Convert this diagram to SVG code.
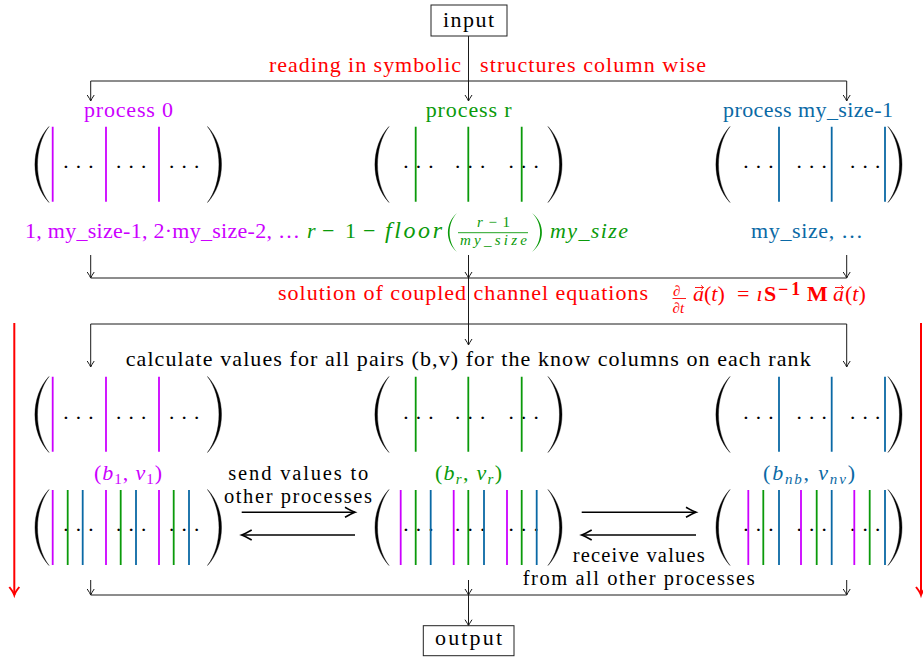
<svg xmlns="http://www.w3.org/2000/svg" width="923" height="657" viewBox="0 0 923 657" font-family="'Liberation Serif', 'Times New Roman', serif">
<defs>
<style>
text{font-family:"Liberation Serif","Times New Roman",serif;font-size:22px;fill:#000}
.i{font-style:italic}
.bf{font-weight:bold}
.s{font-size:15px}
.sm{font-size:20.5px}
.cm{fill:#cc00ff}.cg{fill:#0a9a0a}.cb{fill:#0a69a5}.cr{fill:#ff0000}
.dots{letter-spacing:5.2px}
.lm{stroke:#cc00ff;stroke-width:1.8;fill:none}
.lg{stroke:#0a9a0a;stroke-width:1.8;fill:none}
.lb{stroke:#0a69a5;stroke-width:1.8;fill:none}
.box{fill:#fff;stroke:#222;stroke-width:1}
.c{stroke:#1a1a1a;stroke-width:1;fill:none}
.ca{marker-end:url(#ah)}
.th{stroke:#000;stroke-width:1.6;fill:none;marker-end:url(#ahb)}
.rd{stroke:#ff0000;stroke-width:2;fill:none;marker-end:url(#ahr)}
.par{fill:#000;stroke:#000;stroke-width:0.4}
.vec{stroke:#ff0000;stroke-width:0.9;fill:none}
</style>
<marker id="ah" markerUnits="userSpaceOnUse" viewBox="-8 -6 10 12" markerWidth="10" markerHeight="12" refX="0" refY="0" orient="auto" overflow="visible">
<path d="M-6,-3.5 Q-2,-0.8 0,0 Q-2,0.8 -6,3.5" fill="none" stroke="#1a1a1a" stroke-width="1"/>
</marker>
<marker id="ahb" markerUnits="userSpaceOnUse" viewBox="-12 -7 14 14" markerWidth="14" markerHeight="14" refX="0" refY="0" orient="auto" overflow="visible">
<path d="M-10,-5 Q-3,-1 0,0 Q-3,1 -10,5" fill="none" stroke="#000" stroke-width="1.6"/>
</marker>
<marker id="ahr" markerUnits="userSpaceOnUse" viewBox="-10 -7 12 14" markerWidth="12" markerHeight="14" refX="0" refY="0" orient="auto" overflow="visible">
<path d="M-8,-5 Q-3,-1 0,0 Q-3,1 -8,5" fill="none" stroke="#ff0000" stroke-width="2"/>
</marker>
<path id="lp" d="M14,0 C-4.67,20 -4.67,56 14,76 C-1.33,56 -1.33,20 14,0Z"/>
<path id="rp" d="M0,0 C18.67,20 18.67,56 0,76 C15.33,56 15.33,20 0,0Z"/>
</defs>

<g id="connectors">
<path class="c ca" d="M468.5,36 V101"/>
<path class="c ca" d="M468.5,81 H90.7 V101"/>
<path class="c ca" d="M468.5,81 H846.7 V101"/>
<path class="c ca" d="M90.7,255 V278"/>
<path class="c ca" d="M846.7,255 V278"/>
<path class="c ca" d="M468.5,255 V278"/>
<path class="c" d="M90.7,278 H846.7"/>
<path class="c ca" d="M468.5,278 V345"/>
<path class="c ca" d="M468.5,324 H90.7 V367"/>
<path class="c ca" d="M468.5,324 H846.7 V367"/>
<path class="c ca" d="M90.7,580 V595"/>
<path class="c ca" d="M468.5,580 V595"/>
<path class="c ca" d="M846.7,580 V595"/>
<path class="c" d="M90.7,595 H846.7"/>
<path class="c ca" d="M468.5,595 V625.7"/>
<path class="th" d="M241.7,512.3 H355"/>
<path class="th" d="M355,535 H241.7"/>
<path class="th" d="M581.7,512.3 H696"/>
<path class="th" d="M696,535 H581.7"/>
<path class="rd" d="M14.3,323 V595"/>
<path class="rd" d="M921,323 V595"/>
</g>

<g id="input">
<rect class="box" x="431" y="5" width="76" height="31"/>
<text x="443" y="27" textLength="51">input</text>
</g>

<g id="step-labels">
<text class="cr" x="269" y="72" textLength="192">reading in symbolic</text>
<text class="cr" x="480" y="72" textLength="226">structures column wise</text>
<text class="cr" x="278" y="300" textLength="370">solution of coupled channel equations</text>
<text class="cr s i" x="673" y="295.5">∂</text>
<line x1="672.5" x2="686" y1="298.5" y2="298.5" stroke="#ff0000" stroke-width="0.9"/>
<text class="cr s i" x="672.5" y="313">∂t</text>
<text class="cr" y="300.7"><tspan class="i" x="693">a</tspan><tspan x="704">(</tspan><tspan class="i">t</tspan><tspan>)</tspan><tspan x="737">=</tspan><tspan class="i" x="756.5">ı</tspan><tspan class="bf" x="764">S</tspan><tspan class="bf" x="778" dy="-6" style="font-size:18px;letter-spacing:3px">−1</tspan><tspan class="bf" x="807" dy="6">M</tspan><tspan class="i" x="833">a</tspan><tspan x="845">(</tspan><tspan class="i">t</tspan><tspan>)</tspan></text>
<path class="vec" d="M695,287.5H703.5M701,285.3L703.5,287.5L701,289.7"/>
<path class="vec" d="M835,287.5H843.5M841,285.3L843.5,287.5L841,289.7"/>
<text x="125.7" y="366" textLength="685">calculate values for all pairs (b,v) for the know columns on each rank</text>
<text class="sm" x="228.3" y="480" textLength="140">send values to</text>
<text class="sm" x="224" y="503" textLength="148">other processes</text>
<text class="sm" x="572.7" y="562" textLength="132">receive values</text>
<text class="sm" x="522.7" y="585" textLength="232">from all other processes</text>
</g>

<g id="index-labels">
<text class="cm" x="25" y="238" textLength="275">1, my_size-1, 2·my_size-2, …</text>
<text class="cg" y="238"><tspan class="i" x="307">r</tspan><tspan x="322">−</tspan><tspan x="345">1</tspan><tspan x="363">−</tspan></text>
<text class="cg i" x="385" y="238" textLength="57" style="font-size:24px">floor</text>
<use href="#lp" transform="translate(448,213) scale(0.643,0.513)" fill="#0a9a0a"/>
<text class="cg s" x="477" y="227" textLength="33"><tspan class="i">r</tspan>−1</text>
<line x1="458" x2="528" y1="232.7" y2="232.7" stroke="#0a9a0a" stroke-width="0.9"/>
<text class="cg s i" x="460" y="245" textLength="67">my_size</text>
<use href="#rp" transform="translate(532,213) scale(0.71,0.513)" fill="#0a9a0a"/>
<text class="cg i" x="550" y="238" textLength="78">my_size</text>
<text class="cb" x="751" y="238" textLength="112">my_size, …</text>
</g>

<g id="process-0">
<text class="cm" x="84" y="117" textLength="89">process 0</text>
<use href="#lp" class="par" x="35" y="126.5"/>
<use href="#rp" class="par" x="207.5" y="126.5"/>
<path class="lm" d="M52.7,126.7V201.7M106,126.7V201.7M159,126.7V201.7"/>
<text class="dots" x="62.2" y="173.7">···</text>
<text class="dots" x="114.9" y="173.7">···</text>
<text class="dots" x="167.9" y="173.7">···</text>
</g>

<g id="process-r">
<text class="cg" x="425.7" y="117" textLength="86">process r</text>
<use href="#lp" class="par" x="375" y="126.5"/>
<use href="#rp" class="par" x="548" y="126.5"/>
<text class="dots" x="402.2" y="173.7">···</text>
<text class="dots" x="453.9" y="173.7">···</text>
<text class="dots" x="507.5" y="173.7">···</text>
<path class="lg" d="M415.7,126.7V201.7M468.3,126.7V201.7M521.7,126.7V201.7"/>
</g>

<g id="process-last">
<text class="cb" x="723" y="117" textLength="170">process my_size-1</text>
<use href="#lp" class="par" x="716" y="126.5"/>
<use href="#rp" class="par" x="888" y="126.5"/>
<path class="lb" d="M779,126.7V201.7M831.7,126.7V201.7M885,126.7V201.7"/>
<text class="dots" x="742.2" y="173.7">···</text>
<text class="dots" x="795.5" y="173.7">···</text>
<text class="dots" x="848.9" y="173.7">···</text>
</g>

<g id="calc-0">
<use href="#lp" class="par" x="35" y="376.5"/>
<use href="#rp" class="par" x="207.5" y="376.5"/>
<path class="lm" d="M52.7,376.7V451.7M106,376.7V451.7M159,376.7V451.7"/>
<text class="dots" x="62.2" y="424.7">···</text>
<text class="dots" x="114.9" y="424.7">···</text>
<text class="dots" x="167.9" y="424.7">···</text>
</g>

<g id="calc-r">
<use href="#lp" class="par" x="375" y="376.5"/>
<use href="#rp" class="par" x="548" y="376.5"/>
<text class="dots" x="402.2" y="424.7">···</text>
<text class="dots" x="453.9" y="424.7">···</text>
<text class="dots" x="507.5" y="424.7">···</text>
<path class="lg" d="M415.7,376.7V451.7M468.3,376.7V451.7M521.7,376.7V451.7"/>
</g>

<g id="calc-last">
<use href="#lp" class="par" x="716" y="376.5"/>
<use href="#rp" class="par" x="888" y="376.5"/>
<path class="lb" d="M779,376.7V451.7M831.7,376.7V451.7M885,376.7V451.7"/>
<text class="dots" x="742.2" y="424.7">···</text>
<text class="dots" x="795.5" y="424.7">···</text>
<text class="dots" x="848.9" y="424.7">···</text>
</g>

<g id="pairs-0">
<text class="cm" x="94" y="480" textLength="68">(<tspan class="i">b</tspan><tspan class="s" dy="4">1</tspan><tspan dy="-4">, </tspan><tspan class="i">v</tspan><tspan class="s" dy="4">1</tspan><tspan dy="-4">)</tspan></text>
<use href="#lp" class="par" x="35" y="489.5"/>
<use href="#rp" class="par" x="207.5" y="489.5"/>
<text class="dots" x="62.2" y="536.7">···</text>
<text class="dots" x="114.9" y="536.7">···</text>
<text class="dots" x="167.9" y="536.7">···</text>
<path class="lm" d="M52.7,490V565M106,490V565M159,490V565"/>
<path class="lg" d="M67.7,490V565M120.7,490V565M173.7,490V565"/>
<path class="lb" d="M82.7,490V565M136,490V565M189,490V565"/>
</g>

<g id="pairs-r">
<text class="cg" x="435" y="480" textLength="67">(<tspan class="i">b</tspan><tspan class="s i" dy="4">r</tspan><tspan dy="-4">, </tspan><tspan class="i">v</tspan><tspan class="s i" dy="4">r</tspan><tspan dy="-4">)</tspan></text>
<use href="#lp" class="par" x="375" y="489.5"/>
<use href="#rp" class="par" x="548" y="489.5"/>
<text class="dots" x="402.2" y="536.7">···</text>
<text class="dots" x="453.9" y="536.7">···</text>
<text class="dots" x="507.5" y="536.7">···</text>
<path class="lm" d="M400.7,490V565M453.7,490V565M507,490V565"/>
<path class="lg" d="M415.7,490V565M468.3,490V565M521.7,490V565"/>
<path class="lb" d="M430.7,490V565M484,490V565M536.7,490V565"/>
</g>

<g id="pairs-last">
<text class="cb" x="763" y="480" textLength="92">(<tspan class="i">b</tspan><tspan class="s i" dy="4">nb</tspan><tspan dy="-4">, </tspan><tspan class="i">v</tspan><tspan class="s i" dy="4">nv</tspan><tspan dy="-4">)</tspan></text>
<use href="#lp" class="par" x="716" y="489.5"/>
<use href="#rp" class="par" x="888" y="489.5"/>
<text class="dots" x="742.2" y="536.7">···</text>
<text class="dots" x="795.5" y="536.7">···</text>
<text class="dots" x="848.9" y="536.7">···</text>
<path class="lm" d="M748.3,490V565M801,490V565M854.3,490V565"/>
<path class="lg" d="M763.3,490V565M816.7,490V565M869.7,490V565"/>
<path class="lb" d="M779,490V565M831.7,490V565M885,490V565"/>
</g>

<g id="output">
<rect class="box" x="423.3" y="625.7" width="90.7" height="30"/>
<text x="435" y="645" textLength="67">output</text>
</g>
</svg>
